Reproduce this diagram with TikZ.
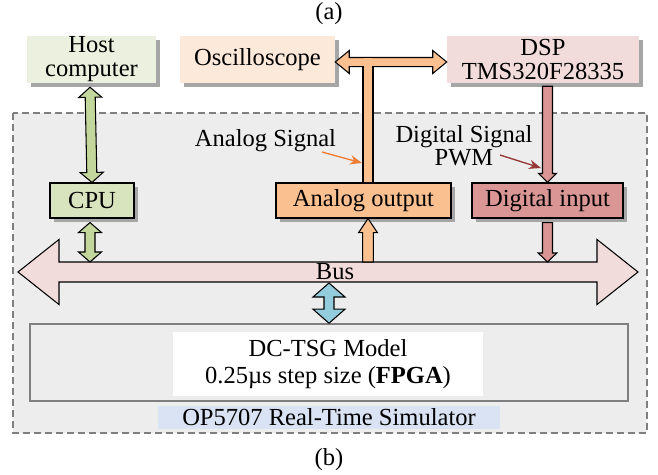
\documentclass[tikz,border=0pt]{standalone}
\usepackage{fontspec}
\setmainfont{Liberation Serif}
\usetikzlibrary{calc}
\usetikzlibrary{shadows}
\usetikzlibrary{arrows.meta}

\definecolor{hostfill}{HTML}{EBF1DE}
\definecolor{oscfill}{HTML}{FDE9D9}
\definecolor{dspfill}{HTML}{F2DCDB}
\definecolor{cpufill}{HTML}{D7E4BD}
\definecolor{greenarr}{HTML}{C3D69B}
\definecolor{aofill}{HTML}{FAC090}
\definecolor{difill}{HTML}{D99694}
\definecolor{busfill}{HTML}{F2DCDB}
\definecolor{bluearr}{HTML}{93CDDD}
\definecolor{simbg}{HTML}{EDEDED}
\definecolor{simline}{HTML}{7F7F7F}
\definecolor{labelfill}{HTML}{DAE3F3}
\definecolor{shadowgray}{HTML}{A6A6A6}
\definecolor{sigorange}{HTML}{ED7D31}
\definecolor{sigred}{HTML}{953735}

% block arrow with two heads: style, from, to, shaft half width, head half width, head length
\newcommand{\blockdbl}[6]{%
  \path (#2) coordinate (ba-a) (#3) coordinate (ba-b);
  \path ($(ba-a)!#6!(ba-b)$) coordinate (ba-ha) ($(ba-b)!#6!(ba-a)$) coordinate (ba-hb);
  \draw[#1] (ba-a) -- ($(ba-ha)!#5!90:(ba-b)$) -- ($(ba-ha)!#4!90:(ba-b)$)
    -- ($(ba-hb)!#4!-90:(ba-a)$) -- ($(ba-hb)!#5!-90:(ba-a)$) -- (ba-b)
    -- ($(ba-hb)!#5!90:(ba-a)$) -- ($(ba-hb)!#4!90:(ba-a)$)
    -- ($(ba-ha)!#4!-90:(ba-b)$) -- ($(ba-ha)!#5!-90:(ba-b)$) -- cycle;
}
% block arrow with one head at the second point
\newcommand{\blocksgl}[6]{%
  \path (#2) coordinate (ba-a) (#3) coordinate (ba-b);
  \path ($(ba-b)!#6!(ba-a)$) coordinate (ba-hb);
  \draw[#1] ($(ba-a)!#4!90:(ba-b)$) -- ($(ba-hb)!#4!-90:(ba-a)$)
    -- ($(ba-hb)!#5!-90:(ba-a)$) -- (ba-b) -- ($(ba-hb)!#5!90:(ba-a)$)
    -- ($(ba-hb)!#4!90:(ba-a)$) -- ($(ba-a)!#4!-90:(ba-b)$) -- cycle;
}

\tikzset{
  shadowed/.style={drop shadow={shadow xshift=3pt,shadow yshift=-3pt,fill=shadowgray,opacity=1}},
  topbox/.style={shadowed, minimum height=35.25pt, inner sep=0pt, align=center},
  iobox/.style={shadowed, draw=black, line width=0.8, minimum height=26.25pt, inner sep=0pt},
  blockline/.style={draw=black, line width=0.8},
}

\begin{document}
\begin{tikzpicture}[x=0.75pt,y=0.75pt,yscale=-1,xscale=1,
  every node/.style={font=\fontsize{18.4}{18}\selectfont}]
\useasboundingbox (0,0) rectangle (658,475);

%Dashed Rect (simulator)
\draw [draw=simline, fill=simbg, line width=0.9, dash pattern={on 5.25pt off 3pt}] (13,113) rectangle (647,433);

% Boxes
\node [topbox, fill=hostfill, minimum width=96.75pt] (host) at (91.5,59.5) {Host\\computer};
\node [topbox, fill=oscfill, minimum width=116.25pt] (osc) at (257.5,59.5) {Oscilloscope};
\node [topbox, fill=dspfill, minimum width=144pt] (dsp) at (543,59.5) {DSP\\TMS320F28335};

\node [iobox, fill=cpufill, minimum width=63pt] (cpu) at (92,200.5) {CPU};
\node [iobox, fill=aofill, minimum width=131.25pt] (analog) at (363.5,200.5) {Analog output};
\node [iobox, fill=difill, minimum width=113.25pt] (digital) at (547.5,200.5) {Digital input};

\node [draw=simline, line width=1.2, minimum width=448.5pt, minimum height=57.75pt] (fpga) at (329,362.5) {};
\node [fill=white, minimum width=232.5pt, minimum height=48pt, align=center,
  font=\fontsize{18.4}{20}\selectfont] (model) at (328,364) {DC-TSG Model\\0.25µs step size (\textbf{FPGA})};
\node [fill=labelfill, minimum width=256.5pt, minimum height=17.25pt, inner sep=0pt] (sim) at (329,417.5) {OP5707 Real-Time Simulator};

% Coordinates
\coordinate (busL) at (18,272);
\coordinate (busR) at (638,272);
\coordinate (bustop) at (0,262);
\coordinate (busbot) at (0,283);
\coordinate (tee) at (368,62);

%Bus
\blockdbl{blockline, fill=busfill}{busL}{busR}{7.5pt}{24.4pt}{30.75pt}
\node (bus) at (335,272) {Bus};

%Host <-> CPU
\blockdbl{blockline, fill=greenarr}{$(host.south)+(-1.5,4)$}{cpu.north}{3.75pt}{8.6pt}{7.5pt}
%CPU <-> Bus
\blockdbl{blockline, fill=greenarr}{$(cpu.south)+(-2,4)$}{$(cpu.south |- bustop)+(-2,0)$}{3.75pt}{8.6pt}{7.5pt}

%Bus -> Analog output
\blocksgl{blockline, fill=aofill}{tee |- bustop}{tee |- analog.south}{4pt}{7pt}{10.5pt}
%T stem to Analog output
\draw [blockline, fill=aofill] ($(tee)+(-5,0)$) rectangle ($(tee |- analog.north)+(5,0)$);
%Oscilloscope <-> DSP
\blockdbl{blockline, fill=aofill}{osc.east |- tee}{dsp.west |- tee}{3.4pt}{8.6pt}{10.5pt}
\fill [aofill] ($(tee)+(-4.2,-3.6)$) rectangle ($(tee)+(4.2,5.6)$);

%DSP -> Digital input
\blocksgl{blockline, fill=difill}{$(digital.north |- dsp.south)+(0,3)$}{digital.north}{3.75pt}{6.75pt}{6.75pt}
%Digital input -> Bus
\blocksgl{blockline, fill=difill}{$(digital.south)+(0,4)$}{digital.south |- bustop}{3.75pt}{7pt}{6.75pt}

%Bus <-> FPGA
\blockdbl{blockline, fill=bluearr}{fpga.north |- busbot}{fpga.north}{3.75pt}{12pt}{10.5pt}

% Text Node
\node (capa) at (329,14) {(a)};
\node (capb) at (329,460) {(b)};
\node (asig) at (265.5,141) {Analog Signal};
\node [align=center, font=\fontsize{18.4}{17.25}\selectfont] (dsig) at (464,146) {Digital Signal\\PWM};

% Signal pointers
\coordinate (asigfrom) at (322,152);
\coordinate (asigto) at (362,163);
\coordinate (dsigfrom) at (500,155);
\coordinate (dsigto) at (541,168);
\draw [sigorange, line width=1, -{Stealth[length=9pt,width=7pt]}] (asigfrom) -- (asigto);
\draw [sigred, line width=1, -{Stealth[length=9pt,width=7pt]}] (dsigfrom) -- (dsigto);

\end{tikzpicture}
\end{document}
